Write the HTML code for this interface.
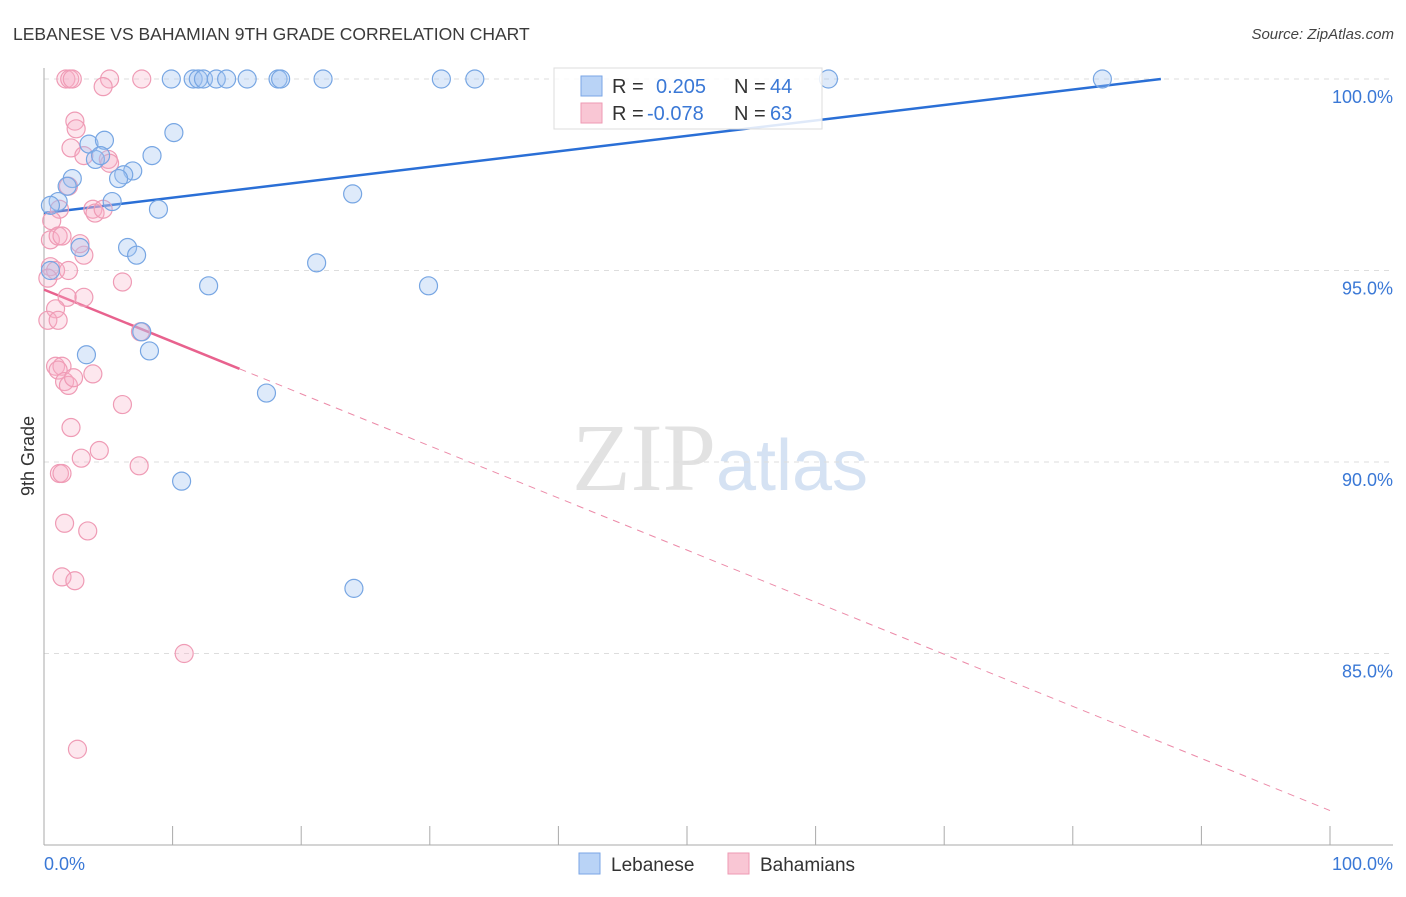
<!DOCTYPE html>
<html><head><meta charset="utf-8"><style>
body{margin:0;background:#fff;font-family:"Liberation Sans",sans-serif;}
svg text{font-family:"Liberation Sans",sans-serif;}
</style></head><body>
<svg id="chart" width="1406" height="892" xmlns="http://www.w3.org/2000/svg">
<text x="13" y="40" font-size="17.5" fill="#3a3a3a">LEBANESE VS BAHAMIAN 9TH GRADE CORRELATION CHART</text>
<text x="1394" y="39" font-size="15" fill="#444" text-anchor="end" font-style="italic">Source: ZipAtlas.com</text>
<text x="720" y="490" font-size="96" text-anchor="middle"><tspan fill="#e2e2e2" font-family="Liberation Serif">ZIP</tspan><tspan fill="#d5e2f3" font-size="72">atlas</tspan></text>
<text transform="translate(34,456) rotate(-90)" font-size="18" fill="#333" text-anchor="middle">9th Grade</text>
<g id="grid"></g><g id="axes"></g><g id="trends"></g><g id="pts"></g>
<g>
<rect x="554" y="68" width="268" height="61" fill="#fff" fill-opacity="0.85" stroke="#ddd"/>
<rect x="581" y="76" width="21" height="20" fill="#b9d3f6" stroke="#7aa6e6"/>
<text x="612" y="93" font-size="20" fill="#333">R = </text><text x="656" y="93" font-size="20" fill="#3a78d6">0.205</text>
<text x="734" y="93" font-size="20" fill="#333">N = </text><text x="770" y="93" font-size="20" fill="#3a78d6">44</text>
<rect x="581" y="103" width="21" height="20" fill="#f9c6d4" stroke="#ee9ab3"/>
<text x="612" y="120" font-size="20" fill="#333">R = </text><text x="647" y="120" font-size="20" fill="#3a78d6">-0.078</text>
<text x="734" y="120" font-size="20" fill="#333">N = </text><text x="770" y="120" font-size="20" fill="#3a78d6">63</text>
</g>
<g><rect x="579" y="853" width="21" height="21" fill="#b9d3f6" stroke="#7aa6e6"/><text x="611" y="871" font-size="19" fill="#333">Lebanese</text></g>
<g><rect x="728" y="853" width="21" height="21" fill="#f9c6d4" stroke="#ee9ab3"/><text x="760" y="871" font-size="19" fill="#333">Bahamians</text></g>
</svg>
<script>
const yTicks=[100,95,90,85];
const yTickLabels=["100.0%","95.0%","90.0%","85.0%"];
const xEndLabels=["0.0%","100.0%"];
const lebX=[9.9,11.6,12.0,12.4,13.4,14.2,15.8,18.2,18.4,21.7,30.9,33.5,61.0,82.3,10.1,3.5,4.7,4.0,4.4,8.4,6.9,6.2,5.8,2.2,1.8,5.3,1.1,0.5,8.9,24.0,2.8,6.5,7.2,21.2,12.8,29.9,7.6,3.3,8.2,17.3,10.7,24.1,0.5];
const lebY=[100,100,100,100,100,100,100,100,100,100,100,100,100,100,98.6,98.3,98.4,97.9,98.0,98.0,97.6,97.5,97.4,97.4,97.2,96.8,96.8,96.7,96.6,97.0,95.6,95.6,95.4,95.2,94.6,94.6,93.4,92.8,92.9,91.8,89.5,86.7,95.0];
const bahX=[1.7,2.0,2.2,5.1,7.6,4.6,2.4,2.5,2.1,3.1,5.0,5.1,1.9,3.8,3.97,4.6,1.2,0.6,0.5,1.1,1.4,3.1,2.8,0.5,0.9,1.9,0.3,6.1,3.1,1.8,0.9,0.3,1.1,7.5,0.9,1.4,1.1,1.6,1.9,2.3,3.8,6.1,2.1,4.3,2.9,7.4,1.2,1.4,1.6,3.4,1.4,2.4,10.9,2.6];
const bahY=[100,100,100,100,100,99.8,98.9,98.7,98.2,98.0,97.9,97.8,97.2,96.6,96.5,96.6,96.6,96.3,95.8,95.9,95.9,95.4,95.7,95.1,95.0,95.0,94.8,94.7,94.3,94.3,94.0,93.7,93.7,93.4,92.5,92.5,92.4,92.1,92.0,92.2,92.3,91.5,90.9,90.3,90.1,89.9,89.7,89.7,88.4,88.2,87.0,86.9,85.0,82.5];
const lebTrend=[96.5,0.0403];
const bahTrend=[94.5,-0.136];
const NS="http://www.w3.org/2000/svg";
const X=v=>44+v*12.86, Y=v=>79+(100-v)*38.3;
function mk(p,t,a){const e=document.createElementNS(NS,t);for(const k in a)e.setAttribute(k,a[k]);p.appendChild(e);return e;}
const grid=document.getElementById('grid'),axes=document.getElementById('axes'),tr=document.getElementById('trends'),pts=document.getElementById('pts');
yTicks.forEach((t,i)=>{
 const l=mk(grid,'line',{x1:44,x2:1393,y1:Y(t),y2:Y(t),stroke:'#ddd','stroke-dasharray':'5,5'});
 
 
 const tx=mk(grid,'text',{x:1393,y:Y(t)+24,'font-size':18,fill:'#3a78d6','text-anchor':'end'});tx.textContent=yTickLabels[i];
 
 
});
mk(axes,'line',{x1:44,x2:44,y1:68,y2:845,stroke:'#aaa'});
mk(axes,'line',{x1:44,x2:1393,y1:845,y2:845,stroke:'#aaa'});
for(let i=1;i<=10;i++){const tk=mk(axes,'line',{x1:X(i*10),x2:X(i*10),y1:826,y2:845,stroke:'#aaa'});
 
 }
const xl0=mk(axes,'text',{x:44,y:870,'font-size':18,fill:'#3a78d6'});xl0.textContent=xEndLabels[0];


const xl1=mk(axes,'text',{x:1393,y:870,'font-size':18,fill:'#3a78d6','text-anchor':'end'});xl1.textContent=xEndLabels[1];


const lx=(100-lebTrend[0])/lebTrend[1];
const tl=mk(tr,'line',{x1:X(0),y1:Y(lebTrend[0]),x2:X(lx),y2:Y(100),stroke:'#2a6fd6','stroke-width':2.5});


const bs=15.2;
const tb=mk(tr,'line',{x1:X(0),y1:Y(bahTrend[0]),x2:X(bs),y2:Y(bahTrend[0]+bahTrend[1]*bs),stroke:'#e8628e','stroke-width':2.5});


const td=mk(tr,'line',{x1:X(bs),y1:Y(bahTrend[0]+bahTrend[1]*bs),x2:X(100),y2:Y(bahTrend[0]+bahTrend[1]*100),stroke:'#ec8aa8','stroke-width':1,'stroke-dasharray':'7,6'});


bahX.forEach((x,i)=>{const c=mk(pts,'circle',{cx:X(x),cy:Y(bahY[i]),r:9,fill:'rgba(248,175,198,0.3)',stroke:'#ef9bb5','stroke-width':1.2});
 
 });
lebX.forEach((x,i)=>{const c=mk(pts,'circle',{cx:X(x),cy:Y(lebY[i]),r:9,fill:'rgba(160,195,240,0.35)',stroke:'#77a6e3','stroke-width':1.2});
 
 });
</script>
</body></html>
